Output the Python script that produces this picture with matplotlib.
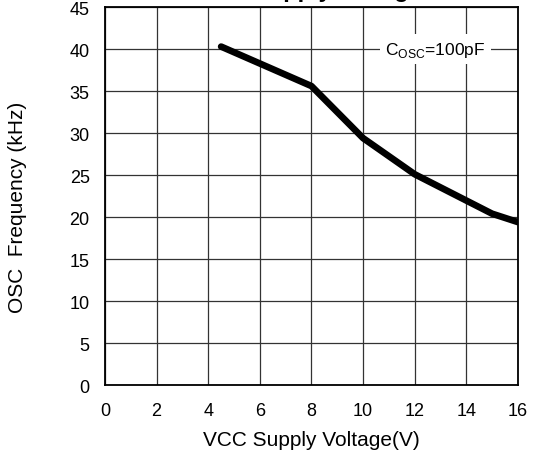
import matplotlib.pyplot as plt

plt.rcParams['font.family'] = ['Liberation Sans', 'DejaVu Sans']

vcc = [4.5, 8, 10, 12, 15, 16]
freq = [40.3, 35.6, 29.4, 25.1, 20.4, 19.4]
x_ticks = [0, 2, 4, 6, 8, 10, 12, 14, 16]
y_ticks = [0, 5, 10, 15, 20, 25, 30, 35, 40, 45]


def main():
    fig = plt.figure(figsize=(5.37, 4.52), dpi=100)
    ax = fig.add_axes([0.1955, 0.146, 0.769, 0.836])
    ax.plot(vcc, freq, color='black', linewidth=4.8, solid_capstyle='round', zorder=3)
    ax.set_xlim(0, 16)
    ax.set_ylim(0, 45)
    ax.set_xticks(x_ticks)
    ax.set_yticks(y_ticks)
    ax.tick_params(length=0, labelsize=13)
    ax.tick_params(axis='y', pad=11)
    ax.tick_params(axis='x', pad=12)
    ax.grid(True, color='#333333', linewidth=0.9)
    for s in ax.spines.values():
        s.set_linewidth(1.3)
    ax.set_xlabel('VCC Supply Voltage(V)', fontsize=15, labelpad=8)
    ax.set_ylabel('OSC  Frequency (kHz)', fontsize=15)
    ax.yaxis.set_label_coords(-0.19, 0.474)
    ax.text(12.8, 40, r'C$_{\mathregular{OSC}}$=100pF', fontsize=12.5, ha='center', va='center',
            bbox=dict(facecolor='white', edgecolor='none', pad=4), zorder=4)
    # title sits mostly above the top edge, only the descenders show
    fig.text(253 / 537, 1 + 3 / 452, 'Supply Voltage', fontsize=17, fontweight='bold',
             ha='left', va='baseline')
    fig.savefig('out.png')


if __name__ == '__main__':
    main()
